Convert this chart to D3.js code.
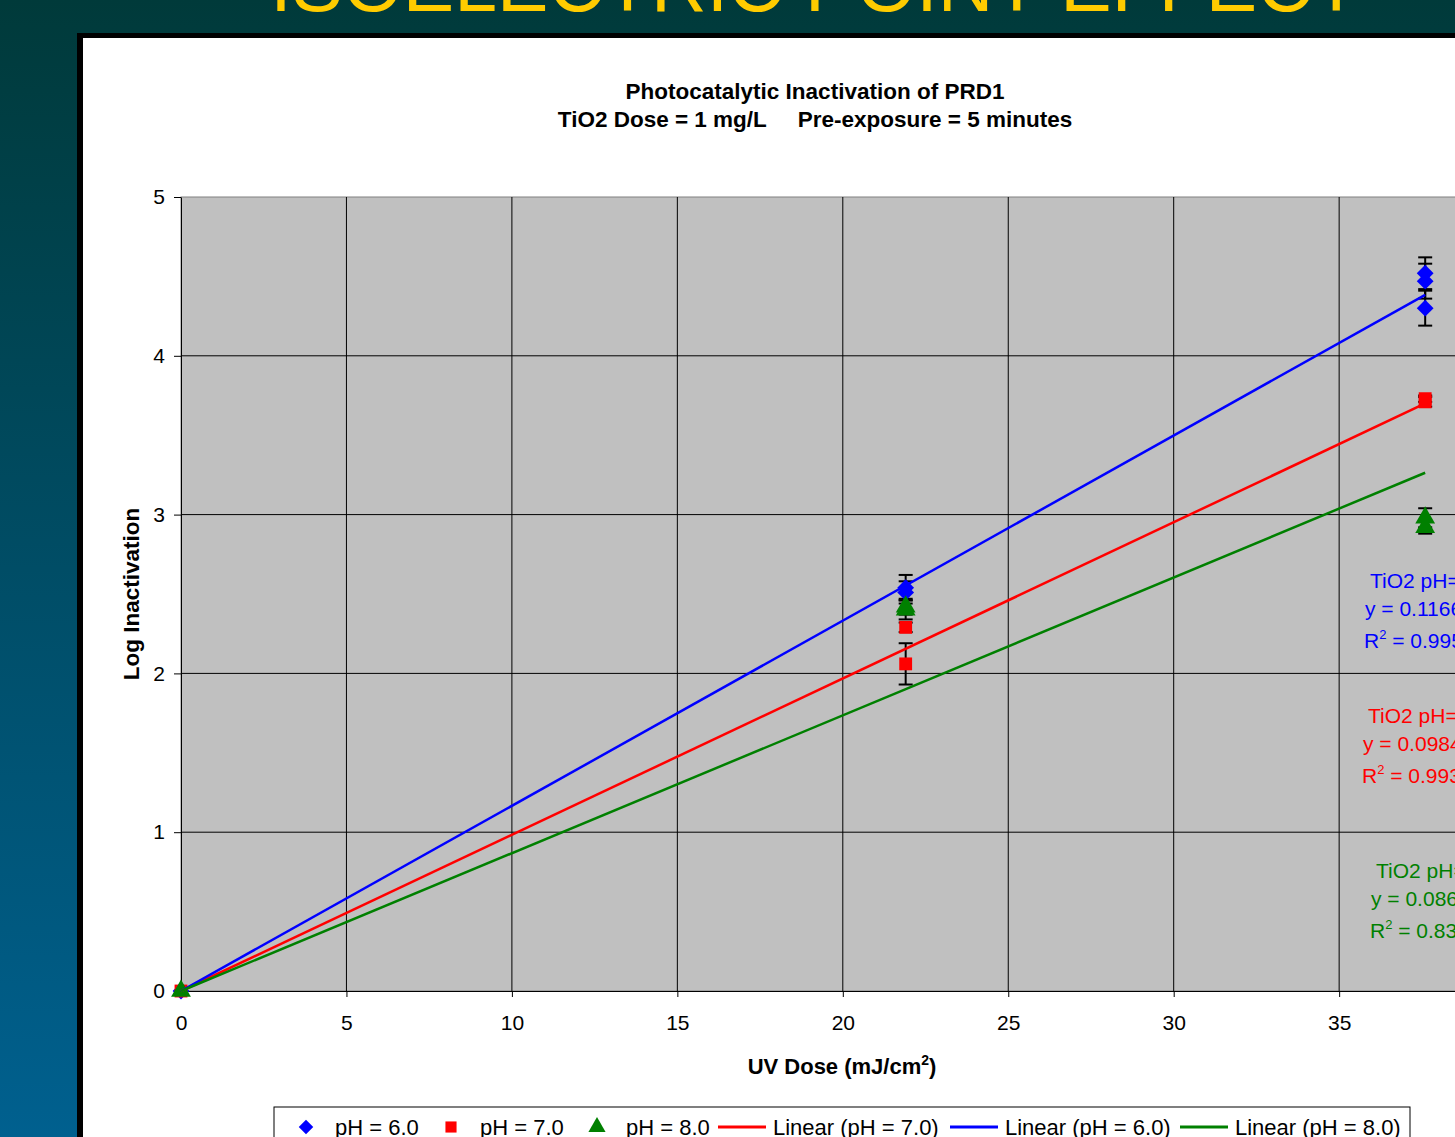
<!doctype html>
<html>
<head>
<meta charset="utf-8">
<title>Isoelectric point effect</title>
<style>
  body { margin: 0; padding: 0; overflow: hidden; }
  svg { display: block; font-family: Arial, "Liberation Sans", sans-serif; }
</style>
</head>
<body>
<svg id="chart" width="1455" height="1137"></svg>
<script src="https://d3js.org/d3.v7.min.js"></script>
<script>
// data
var seriesNames = ["pH = 6.0", "pH = 7.0", "pH = 8.0"];
var seriesColors = ["#0000ff", "#ff0000", "#008000"];
var dosePH6 = [0, 21.9, 21.9, 37.6, 37.6, 37.6];
var logPH6 = [0, 2.54, 2.51, 4.52, 4.47, 4.30];
var errPH6 = [0, 0.08, 0.07, 0.10, 0.11, 0.11];
var dosePH7 = [0, 21.9, 21.9, 37.6, 37.6];
var logPH7 = [0, 2.29, 2.06, 3.73, 3.71];
var errPH7 = [0, 0.03, 0.13, 0.02, 0.03];
var dosePH8 = [0, 21.9, 21.9, 37.6, 37.6];
var logPH8 = [0, 2.42, 2.40, 2.98, 2.92];
var errPH8 = [0, 0.05, 0.06, 0.06, 0.04];
var trendSlopes = [0.1166, 0.0984, 0.0868];
var trendOrder = [1, 0, 2]; // legend order of the linear fits
var trendLabels = [
  ["TiO2 pH=6.0", "y = 0.1166x", "R² = 0.9952"],
  ["TiO2 pH=7.0", "y = 0.0984x", "R² = 0.9934"],
  ["TiO2 pH=8.0", "y = 0.0868x", "R² = 0.8357"]
];
var xTicks = [0, 5, 10, 15, 20, 25, 30, 35];
var yTicks = [0, 1, 2, 3, 4, 5];

var svg = d3.select("#chart");

// slide background
var defs = svg.append("defs");
var grad = defs.append("linearGradient").attr("id", "bg").attr("x1", 0).attr("y1", 0).attr("x2", 0).attr("y2", 1);
grad.append("stop").attr("offset", "0%").attr("stop-color", "#003a3a");
grad.append("stop").attr("offset", "50%").attr("stop-color", "#004d66");
grad.append("stop").attr("offset", "100%").attr("stop-color", "#00608f");
svg.append("rect").attr("width", 1455).attr("height", 1137).attr("fill", "url(#bg)");

svg.append("text")
  .attr("x", 815).attr("y", 11)
  .attr("text-anchor", "middle")
  .style("font-size", "77px")
  .style("fill", "#ffcc00")
  .text("ISOELECTRIC POINT EFFECT");

// chart panel
svg.append("rect").attr("x", 77).attr("y", 33).attr("width", 1500).attr("height", 1200).attr("fill", "#000");
svg.append("rect").attr("x", 83).attr("y", 38).attr("width", 1500).attr("height", 1200).attr("fill", "#fff");

svg.append("text").attr("x", 815).attr("y", 99).attr("text-anchor", "middle")
  .style("font-size", "22.5px").style("font-weight", "bold")
  .text("Photocatalytic Inactivation of PRD1");
svg.append("text").attr("x", 815).attr("y", 127).attr("text-anchor", "middle")
  .style("font-size", "22.5px").style("font-weight", "bold")
  .attr("xml:space", "preserve")
  .text("TiO2 Dose = 1 mg/L     Pre-exposure = 5 minutes");

var plot = {left: 181, top: 197, width: 1323.6, height: 794};

var x = d3.scaleLinear().domain([0, 40]).range([plot.left, plot.left + plot.width]);
var y = d3.scaleLinear().domain([0, 5]).range([plot.top + plot.height, plot.top]);

svg.append("rect")
  .attr("x", plot.left).attr("y", plot.top)
  .attr("width", plot.width).attr("height", plot.height)
  .attr("fill", "#c0c0c0").attr("stroke", "#808080").attr("stroke-width", 1);

var grid = svg.append("g");
grid.selectAll(".vgrid").data(xTicks.slice(1)).enter().append("line")
  .attr("x1", function(d) { return x(d); }).attr("x2", function(d) { return x(d); })
  .attr("y1", plot.top).attr("y2", plot.top + plot.height)
  .attr("stroke", "#000").attr("stroke-width", 1);
grid.selectAll(".hgrid").data(yTicks.slice(1, -1)).enter().append("line")
  .attr("x1", plot.left).attr("x2", plot.left + plot.width)
  .attr("y1", function(d) { return y(d); }).attr("y2", function(d) { return y(d); })
  .attr("stroke", "#000").attr("stroke-width", 1);

var xAxis = svg.append("g")
  .attr("transform", "translate(0," + (plot.top + plot.height) + ")")
  .call(d3.axisBottom(x).tickValues(xTicks).tickFormat(d3.format("d")).tickSize(6).tickPadding(18).tickSizeOuter(0));
var yAxis = svg.append("g")
  .attr("transform", "translate(" + plot.left + ",0)")
  .call(d3.axisLeft(y).tickValues(yTicks).tickFormat(d3.format("d")).tickSize(7).tickPadding(9).tickSizeOuter(0));
[xAxis, yAxis].forEach(function(a) {
  a.selectAll("text").style("font-size", "21px").style("font-family", "Arial, 'Liberation Sans', sans-serif").attr("fill", "#000");
  a.selectAll("line, path").attr("stroke", "#000");
});

svg.append("text")
  .attr("transform", "translate(139," + y(2.5) + ") rotate(-90)")
  .attr("text-anchor", "middle")
  .style("font-size", "22.5px").style("font-weight", "bold")
  .text("Log Inactivation");

var xt = svg.append("text")
  .attr("x", 842).attr("y", 1074)
  .attr("text-anchor", "middle")
  .style("font-size", "22px").style("font-weight", "bold");
xt.append("tspan").text("UV Dose (mJ/cm");
xt.append("tspan").attr("dy", -9).style("font-size", "14px").text("2");
xt.append("tspan").attr("dy", 9).text(")");

var series = [
  {doses: dosePH6, logs: logPH6, errs: errPH6, shape: d3.symbolDiamond2, size: 180},
  {doses: dosePH7, logs: logPH7, errs: errPH7, shape: d3.symbolSquare, size: 165},
  {doses: dosePH8, logs: logPH8, errs: errPH8, shape: d3.symbolTriangle, size: 170}
];

// error bars
series.forEach(function(s) {
  var pts = s.doses.map(function(d, i) { return {x: d, y: s.logs[i], e: s.errs[i]}; })
    .filter(function(p) { return p.e > 0; });
  var eb = svg.append("g").attr("stroke", "#000").attr("stroke-width", 2);
  eb.selectAll(".v").data(pts).enter().append("line")
    .attr("x1", function(p) { return x(p.x); }).attr("x2", function(p) { return x(p.x); })
    .attr("y1", function(p) { return y(p.y - p.e); }).attr("y2", function(p) { return y(p.y + p.e); });
  [-1, 1].forEach(function(sign) {
    eb.selectAll(".c" + sign).data(pts).enter().append("line")
      .attr("x1", function(p) { return x(p.x) - 7; }).attr("x2", function(p) { return x(p.x) + 7; })
      .attr("y1", function(p) { return y(p.y + sign * p.e); }).attr("y2", function(p) { return y(p.y + sign * p.e); });
  });
});

// markers
series.forEach(function(s, k) {
  svg.append("g").selectAll("path").data(s.doses).enter().append("path")
    .attr("d", d3.symbol().type(s.shape).size(s.size))
    .attr("transform", function(d, i) { return "translate(" + x(d) + "," + y(s.logs[i]) + ")"; })
    .attr("fill", seriesColors[k]);
});

// linear trend lines through origin
trendOrder.forEach(function(k) {
  var maxDose = d3.max(series[k].doses);
  svg.append("line")
    .attr("x1", x(0)).attr("y1", y(0))
    .attr("x2", x(maxDose)).attr("y2", y(trendSlopes[k] * maxDose))
    .attr("stroke", seriesColors[k]).attr("stroke-width", 2.5);
});

// trend labels
var labelPos = [[1370, 588], [1368, 723], [1376, 878]];
trendLabels.forEach(function(lines, k) {
  var g = svg.append("g").style("font-size", "21px").attr("fill", seriesColors[k]);
  g.append("text").attr("x", labelPos[k][0]).attr("y", labelPos[k][1]).text(lines[0]);
  g.append("text").attr("x", labelPos[k][0] - 5).attr("y", labelPos[k][1] + 28).text(lines[1]);
  var r = g.append("text").attr("x", labelPos[k][0] - 6).attr("y", labelPos[k][1] + 60);
  r.append("tspan").text("R");
  r.append("tspan").attr("dy", -9).style("font-size", "13px").text("2");
  r.append("tspan").attr("dy", 9).text(lines[2].slice(2));
});

// legend
svg.append("rect").attr("x", 274).attr("y", 1107).attr("width", 1136).attr("height", 60)
  .attr("fill", "#fff").attr("stroke", "#000").attr("stroke-width", 1);
var legY = 1127;
var markerX = [306, 451, 597];
series.forEach(function(s, k) {
  svg.append("path")
    .attr("d", d3.symbol().type(s.shape).size(s.size * 0.75))
    .attr("transform", "translate(" + markerX[k] + "," + legY + ")")
    .attr("fill", seriesColors[k]);
  svg.append("text").attr("x", markerX[k] + 29).attr("y", legY + 8)
    .style("font-size", "22px").text(seriesNames[k]);
});
var lineX = [718, 950, 1180];
trendOrder.forEach(function(k, j) {
  svg.append("line").attr("x1", lineX[j]).attr("x2", lineX[j] + 48)
    .attr("y1", legY).attr("y2", legY)
    .attr("stroke", seriesColors[k]).attr("stroke-width", 3);
  svg.append("text").attr("x", lineX[j] + 55).attr("y", legY + 8)
    .style("font-size", "22px").text("Linear (" + seriesNames[k] + ")");
});
</script>
</body>
</html>
